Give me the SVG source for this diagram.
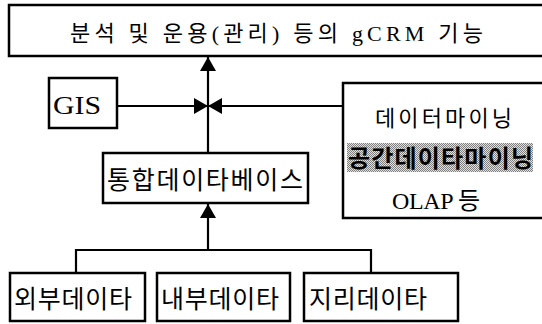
<svg xmlns="http://www.w3.org/2000/svg" width="542" height="324" viewBox="0 0 542 324">
<defs>
<style>
.box{fill:#fff;stroke:#000;stroke-width:2.5}
.ln{fill:none;stroke:#000;stroke-width:2.2}
.kr{font-family:"Noto Sans CJK KR",sans-serif;fill:#000}
.sf{font-family:"Liberation Serif","Noto Sans CJK KR",serif;fill:#000}
</style>
<pattern id="dots" width="2" height="2" patternUnits="userSpaceOnUse">
<rect width="2" height="2" fill="#e0e0e0"/>
<rect width="1" height="1" fill="#808080"/>
<rect x="1" y="1" width="1" height="1" fill="#808080"/>
</pattern>
<marker id="ah" viewBox="0 0 14 16" refX="14" refY="8" markerWidth="14" markerHeight="16" markerUnits="userSpaceOnUse" orient="auto">
<path d="M0,0 L14,8 L0,16 Z" fill="#000"/>
</marker>
</defs>
<rect width="542" height="324" fill="#fff"/>
<g id="top">
<rect class="box" x="9" y="5" width="540" height="51"/>
<text class="sf" x="70" y="41" font-size="22" textLength="413" lengthAdjust="spacing">분석 및 운용(관리) 등의 gCRM 기능</text>
</g>
<g id="gis">
<rect class="box" x="49" y="78" width="68" height="50"/>
<text class="sf" x="53" y="114" font-size="26" textLength="48" lengthAdjust="spacingAndGlyphs">GIS</text>
</g>
<g id="mining">
<rect class="box" x="343" y="83" width="205" height="135"/>
<text class="kr" x="375" y="126" font-size="22" textLength="137" lengthAdjust="spacing">데이터마이닝</text>
<rect x="347" y="143" width="186" height="29" fill="url(#dots)"/>
<text class="kr" x="348" y="167" font-size="24" font-weight="bold" textLength="185" lengthAdjust="spacing">공간데이타마이닝</text>
<text class="sf" x="392" y="209" font-size="24" textLength="88" lengthAdjust="spacing">OLAP 등</text>
</g>
<g id="integrated">
<rect class="box" x="103" y="153" width="205" height="50"/>
<text class="kr" x="107" y="189" font-size="25" textLength="196" lengthAdjust="spacing">통합데이타베이스</text>
</g>
<g id="external">
<rect class="box" x="10" y="273" width="135" height="48"/>
<text class="kr" x="14" y="308" font-size="25" textLength="118" lengthAdjust="spacing">외부데이타</text>
</g>
<g id="internal">
<rect class="box" x="157" y="273" width="133" height="48"/>
<text class="kr" x="161" y="308" font-size="25" textLength="118" lengthAdjust="spacing">내부데이타</text>
</g>
<g id="geo">
<rect class="box" x="304" y="273" width="154" height="48"/>
<text class="kr" x="309" y="308" font-size="25" textLength="118" lengthAdjust="spacing">지리데이타</text>
</g>
<g id="connectors">
<line class="ln" x1="208" y1="153" x2="208" y2="57" marker-end="url(#ah)"/>
<line class="ln" x1="117" y1="106" x2="208" y2="106" marker-end="url(#ah)"/>
<line class="ln" x1="343" y1="106" x2="208" y2="106" marker-end="url(#ah)"/>
<line class="ln" x1="208" y1="250" x2="208" y2="204" marker-end="url(#ah)"/>
<polyline class="ln" points="76,273 76,250 371,250 371,273"/>
</g>
</svg>
